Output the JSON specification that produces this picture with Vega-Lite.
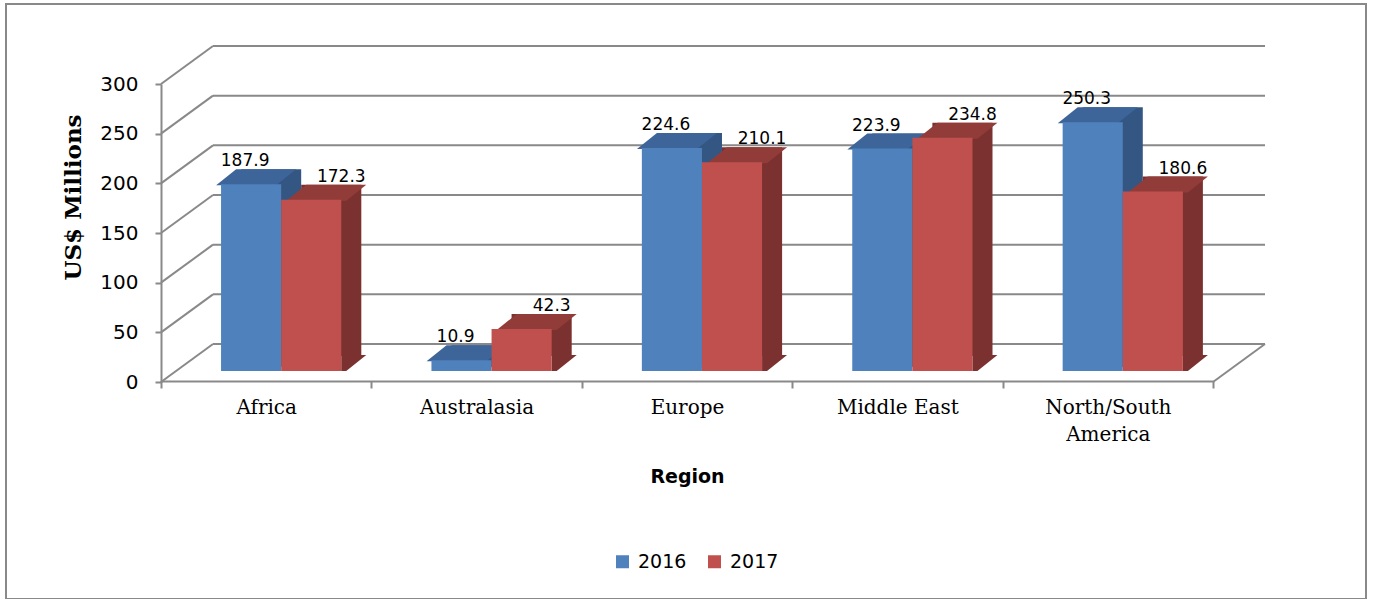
{
  "$schema": "https://vega.github.io/schema/vega-lite/v6.json",
  "width": 1360,
  "height": 595,
  "autosize": "none",
  "padding": {"left": 6, "top": 4, "right": 7, "bottom": 0},
  "background": "white",
  "config": {
    "view": {"stroke": "#898989", "strokeWidth": 2},
    "font": "DejaVu Sans"
  },
  "datasets": {
    "bars": [
      {"region": "Africa", "year": "2016", "value": 187.9},
      {"region": "Africa", "year": "2017", "value": 172.3},
      {"region": "Australasia", "year": "2016", "value": 10.9},
      {"region": "Australasia", "year": "2017", "value": 42.3},
      {"region": "Europe", "year": "2016", "value": 224.6},
      {"region": "Europe", "year": "2017", "value": 210.1},
      {"region": "Middle East", "year": "2016", "value": 223.9},
      {"region": "Middle East", "year": "2017", "value": 234.8},
      {"region": "North/South America", "year": "2016", "value": 250.3},
      {"region": "North/South America", "year": "2017", "value": 180.6}
    ],
    "grid": [
      {"v": 0}, {"v": 50}, {"v": 100}, {"v": 150}, {"v": 200}, {"v": 250}, {"v": 300}
    ]
  },
  "resolve": {"scale": {"x": "shared", "y": "shared", "xOffset": "independent"}},
  "layer": [
    {
      "data": {"name": "grid"},
      "mark": {"type": "rule", "color": "#898989", "strokeWidth": 2, "xOffset": 52, "x2Offset": 52, "yOffset": -38},
      "encoding": {
        "x": {"datum": "Africa", "type": "nominal", "bandPosition": 0, "title": "Region",
              "scale": {"domain": ["Africa", "Australasia", "Europe", "Middle East", "North/South America"], "range": [155, 1207], "paddingInner": 0, "paddingOuter": 0}},
        "x2": {"datum": "North/South America", "bandPosition": 1},
        "y": {"field": "v", "type": "quantitative", "title": "US$ Millions", "scale": {"domain": [0, 300], "range": [378, 80], "nice": false, "zero": true}}
      }
    },
    {
      "data": {"name": "grid"},
      "mark": {"type": "point", "shape": "M0,0L52,-38", "size": 4, "filled": false, "stroke": "#898989", "strokeWidth": 2, "opacity": 1},
      "encoding": {
        "x": {"datum": "Africa", "type": "nominal", "bandPosition": 0, "title": "Region"},
        "y": {"field": "v", "type": "quantitative", "title": "US$ Millions"}
      }
    },
    {
      "data": {"name": "grid"},
      "transform": [{"filter": "datum.v == 0"}],
      "mark": {"type": "point", "shape": "M0,0L52,-38", "size": 4, "filled": false, "stroke": "#898989", "strokeWidth": 2, "opacity": 1},
      "encoding": {
        "x": {"datum": "North/South America", "type": "nominal", "bandPosition": 1, "title": "Region"},
        "y": {"field": "v", "type": "quantitative", "title": "US$ Millions"}
      }
    },
    {
      "data": {"name": "bars"},
      "mark": {"type": "bar", "yOffset": -26, "y2Offset": -26},
      "encoding": {
        "x": {"field": "region", "type": "nominal", "title": "Region"},
        "xOffset": {"field": "year", "type": "nominal", "scale": {"domain": ["2016", "2017"], "paddingOuter": 0.75, "paddingInner": 0, "align": 0.888}},
        "y": {"field": "value", "type": "quantitative", "title": "US$ Millions"},
        "color": {"condition": {"test": "datum.year == '2016'", "value": "#345683"}, "value": "#7B3130"}
      }
    },
    {
      "data": {"name": "bars"},
      "mark": {"type": "point", "shape": "M40,-16L65,-16L45,0L40,0Z", "size": 4, "filled": true, "strokeWidth": 0, "opacity": 1, "yOffset": -11},
      "encoding": {
        "x": {"field": "region", "type": "nominal", "title": "Region"},
        "xOffset": {"field": "year", "type": "nominal", "scale": {"type": "point", "domain": ["2016", "2017"], "padding": 1.25}},
        "y": {"datum": 0, "type": "quantitative", "title": "US$ Millions"},
        "color": {"condition": {"test": "datum.year == '2016'", "value": "#345683"}, "value": "#7B3130"}
      }
    },
    {
      "data": {"name": "bars"},
      "mark": {"type": "point", "shape": "M-15,1L5,-15L65,-15L45,1Z", "size": 4, "filled": true, "strokeWidth": 0, "opacity": 1, "yOffset": -11},
      "encoding": {
        "x": {"field": "region", "type": "nominal", "title": "Region"},
        "xOffset": {"field": "year", "type": "nominal", "scale": {"type": "point", "domain": ["2016", "2017"], "padding": 1.25}},
        "y": {"field": "value", "type": "quantitative", "title": "US$ Millions"},
        "color": {"condition": {"test": "datum.year == '2016'", "value": "#3D6599"}, "value": "#923C3A"}
      }
    },
    {
      "data": {"name": "bars"},
      "mark": {"type": "bar", "yOffset": -11, "y2Offset": -11},
      "encoding": {
        "x": {"field": "region", "type": "nominal", "sort": null, "title": "Region",
              "axis": {"orient": "bottom", "offset": -218, "title": "Region", "labelAngle": 0, "grid": false,
                       "domainColor": "#898989", "domainWidth": 2, "tickColor": "#898989", "tickWidth": 2, "tickSize": 7, "tickBand": "extent",
                       "labelFont": "DejaVu Serif", "labelFontSize": 20, "labelColor": "#000000", "labelPadding": 9, "labelLineHeight": 27,
                       "labelAlign": "center", "labelBaseline": "top",
                       "labelExpr": "datum.value == 'North/South America' ? ['North/South', 'America'] : datum.value",
                       "titleFont": "DejaVu Sans", "titleFontSize": 19, "titleFontWeight": "bold", "titleColor": "#000000",
                       "titleY": 86, "titleBaseline": "top"}},
        "xOffset": {"field": "year", "type": "nominal", "scale": {"domain": ["2016", "2017"], "paddingOuter": 0.75, "paddingInner": 0, "align": 0.666}},
        "y": {"field": "value", "type": "quantitative", "title": "US$ Millions",
              "axis": {"orient": "left", "offset": -155, "values": [0, 50, 100, 150, 200, 250, 300], "grid": false, "title": "US$ Millions",
                       "domainColor": "#898989", "domainWidth": 2, "tickColor": "#898989", "tickWidth": 2, "tickSize": 6,
                       "labelFont": "DejaVu Sans", "labelFontSize": 20, "labelColor": "#000000", "labelPadding": 17,
                       "titleFont": "DejaVu Serif", "titleFontSize": 23, "titleFontWeight": "bold", "titleColor": "#000000",
                       "titleX": -88, "titleY": 193, "titleAngle": 270, "titleAlign": "center", "titleBaseline": "middle"}},
        "color": {"field": "year", "type": "nominal",
                  "scale": {"domain": ["2016", "2017"], "range": ["#4F81BD", "#C0504D"]},
                  "legend": {"orient": "none", "legendX": 607, "legendY": 548, "direction": "horizontal", "title": null,
                             "symbolType": "square", "symbolSize": 169, "symbolStrokeWidth": 0, "symbolOpacity": 1,
                             "labelFont": "DejaVu Sans", "labelFontSize": 19, "labelColor": "#000000", "labelOffset": 6,
                             "columnPadding": 18, "padding": 0}}
      }
    },
    {
      "data": {"name": "bars"},
      "transform": [{"filter": "datum.year == '2016'"}],
      "mark": {"type": "text", "font": "DejaVu Sans", "fontSize": 17, "color": "#000000", "align": "center", "baseline": "alphabetic", "yOffset": -11, "dx": 14, "dy": -18},
      "encoding": {
        "x": {"field": "region", "type": "nominal", "title": "Region"},
        "xOffset": {"field": "year", "type": "nominal", "scale": {"type": "point", "domain": ["2016", "2017"], "padding": 1.25}},
        "y": {"field": "value", "type": "quantitative", "title": "US$ Millions"},
        "text": {"field": "value", "type": "quantitative", "format": ".1f"}
      }
    },
    {
      "data": {"name": "bars"},
      "transform": [{"filter": "datum.year == '2017'"}],
      "mark": {"type": "text", "font": "DejaVu Sans", "fontSize": 17, "color": "#000000", "align": "center", "baseline": "alphabetic", "yOffset": -11, "dx": 40, "dy": -18},
      "encoding": {
        "x": {"field": "region", "type": "nominal", "title": "Region"},
        "xOffset": {"field": "year", "type": "nominal", "scale": {"type": "point", "domain": ["2016", "2017"], "padding": 1.25}},
        "y": {"field": "value", "type": "quantitative", "title": "US$ Millions"},
        "text": {"field": "value", "type": "quantitative", "format": ".1f"}
      }
    }
  ]
}
